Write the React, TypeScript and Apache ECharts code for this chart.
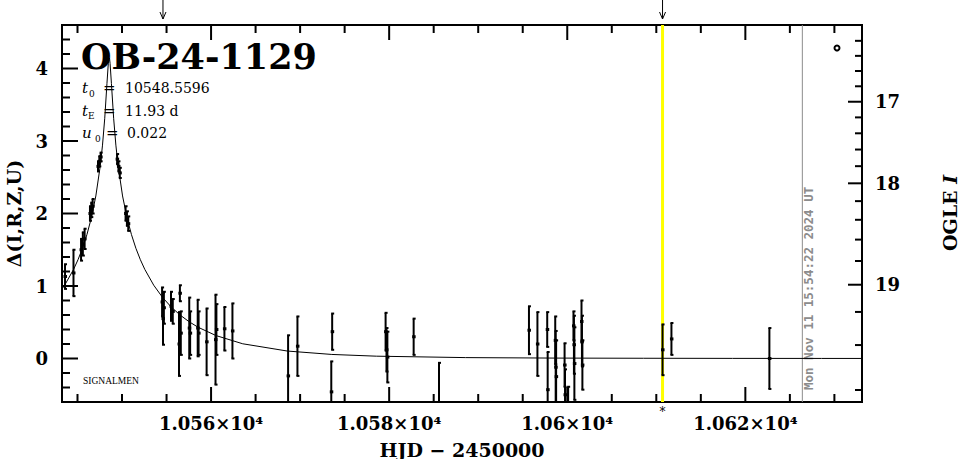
import React, { useEffect, useRef } from 'react';
import * as echarts from 'echarts';

// Axis ranges (HJD - 2450000, Δ)
const X_MIN = 10543.26;
const X_MAX = 10633.1;
const Y_MIN = -0.6;
const Y_MAX = 4.6;

// Tick values
const xMajorTicks = [10560, 10580, 10600, 10620];
const xMinorStep = 5;
const yMajorTicks = [0, 1, 2, 3, 4];
const yMinorStep = 0.2;

// Model (PSPL) curve, read as offsets from t0 (days) and Δ
const T0 = 10548.5596;
const modelDt = [0, 0.05, 0.1, 0.25, 0.5, 0.75, 1, 1.5, 2, 2.5, 3, 3.5, 4, 5, 6, 7, 8, 9, 10, 12, 15, 20, 25, 30, 40, 50, 60, 70, 80, 90];
const modelDelta = [4.144, 4.124, 4.071, 3.794, 3.313, 2.943, 2.659, 2.242, 1.941, 1.709, 1.52, 1.363, 1.229, 1.011, 0.841, 0.706, 0.596, 0.505, 0.43, 0.316, 0.203, 0.103, 0.056, 0.032, 0.0125, 0.0057, 0.0033, 0.0016, 0.001, 0.0007];

// Observations: time, Δ, error
const obsT = [
  10543.6, 10544.55, 10545.4, 10545.6, 10545.8, 10546.4, 10546.55, 10546.7, 10547.3, 10547.45, 10547.6,
  10549.45, 10549.6, 10549.75, 10550.4, 10550.55, 10550.7,
  10554.5, 10554.6, 10554.7, 10555.5, 10555.7, 10556.5, 10556.4, 10556.6, 10557.55, 10557.65, 10558.5, 10558.6,
  10559.5, 10560.5, 10560.6, 10561.5, 10562.4,
  10568.65, 10569.7, 10573.6, 10573.5, 10579.6, 10579.7, 10579.8, 10582.75, 10585.6,
  10595.7, 10596.65, 10597.75, 10597.8, 10598.65, 10598.7, 10598.75, 10599.7, 10599.75, 10600.1,
  10600.7, 10600.75, 10600.8, 10601.6, 10601.65, 10601.7,
  10610.7, 10611.7, 10622.7,
];
const obsDelta = [
  1.13, 1.18, 1.5, 1.58, 1.65, 2.0, 2.05, 2.1, 2.65, 2.72, 2.78,
  2.75, 2.65, 2.56, 2.0, 1.93, 1.86,
  0.78, 0.55, 0.7, 0.72, 0.65, 0.9, 0.2, 0.35, 0.42, 0.35, 0.42, 0.35,
  0.23, 0.26, 0.4, 0.41, 0.38,
  -0.24, 0.17, 0.37, -0.46, 0.37, 0.12, 0.02, 0.3, -0.62,
  0.39, 0.2, 0.4, -0.43, 0.25, -0.12, -0.25, -0.09, -0.5, -0.85,
  0.45, 0.19, -0.07, 0.51, 0.24, -0.09,
  0.12, 0.27, 0.0,
];
const obsErr = [
  0.17, 0.32, 0.15, 0.16, 0.14, 0.1, 0.1, 0.1, 0.07, 0.07, 0.06,
  0.07, 0.07, 0.07, 0.1, 0.1, 0.1,
  0.2, 0.36, 0.22, 0.2, 0.17, 0.11, 0.44, 0.3, 0.42, 0.3, 0.39, 0.3,
  0.46, 0.62, 0.35, 0.3, 0.38,
  0.56, 0.41, 0.25, 0.42, 0.26, 0.3, 0.35, 0.25, 0.56,
  0.33, 0.44, 0.24, 0.52, 0.33, 0.5, 0.5, 0.3, 0.35, 0.46,
  0.2, 0.4, 0.5, 0.29, 0.35, 0.34,
  0.35, 0.22, 0.42,
];

// Right axis: OGLE I magnitude ticks
const rightTickMags = [16.2, 16.4, 16.6, 16.8, 17, 17.2, 17.4, 17.6, 17.8, 18, 18.2, 18.4, 18.6, 18.8, 19, 19.2, 19.4, 19.6];
const rightMajorMags = [17, 18, 19];
const I_BASE = 19.468;
const F_S = 0.347;

// Markers
const alertArrowT = [10554.6, 10610.7];
const yellowT = 10610.7;
const grayT = 10626.4;
const stampText = 'Mon Nov 11 15:54:22 2024 UT';

const SERIF = '"DejaVu Serif", serif';

// Layout of the plotting area inside the 965 x 459 canvas
const W = 965, H = 459;
const G_LEFT = 62, G_TOP = 25, G_RIGHT = 103, G_BOTTOM = 57;

export default function App() {
  const ref = useRef<HTMLDivElement>(null);
  useEffect(() => {
    const chart = echarts.init(ref.current!, null, { renderer: 'svg' });
    const magToDelta = (m: number) =>
      2.5 * Math.log10(1 + (Math.pow(10, -0.4 * (m - I_BASE)) - 1) / F_S);

    const modelData: number[][] = [];
    for (let i = modelDt.length - 1; i > 0; i--) modelData.push([T0 - modelDt[i], modelDelta[i]]);
    for (let i = 0; i < modelDt.length; i++) modelData.push([T0 + modelDt[i], modelDelta[i]]);

    const obsData = obsT.map((t, i) => [t, obsDelta[i], obsErr[i]]);

    const xFormatter = (v: number) => {
      if (Math.abs(v / 20 - Math.round(v / 20)) > 1e-6) return '';
      return String(Math.round(v) / 10000) + '×10⁴';
    };
    const yFormatter = (v: number) => {
      if (Math.abs(v - Math.round(v)) > 1e-6) return '';
      return String(Math.round(v));
    };

    // Inward ticks on bottom, top and left edges (linear axes)
    const plotW = W - G_LEFT - G_RIGHT;
    const plotH = H - G_TOP - G_BOTTOM;
    const xPix = (v: number) => G_LEFT + ((v - X_MIN) / (X_MAX - X_MIN)) * plotW;
    const yPix = (v: number) => G_TOP + ((Y_MAX - v) / (Y_MAX - Y_MIN)) * plotH;
    const gBottom = G_TOP + plotH;
    const tickEls: any[] = [];
    for (let v = Math.ceil(X_MIN / xMinorStep) * xMinorStep; v < X_MAX; v += xMinorStep) {
      const len = xMajorTicks.indexOf(v) >= 0 ? 15 : 8;
      const x = xPix(v);
      tickEls.push({ type: 'line', shape: { x1: x, y1: gBottom, x2: x, y2: gBottom - len }, style: { stroke: '#000', lineWidth: 2 } });
      tickEls.push({ type: 'line', shape: { x1: x, y1: G_TOP, x2: x, y2: G_TOP + len }, style: { stroke: '#000', lineWidth: 2 } });
    }
    for (let k = Math.ceil(Y_MIN / yMinorStep + 1e-9); k * yMinorStep < Y_MAX - 1e-9; k++) {
      const v = Math.round(k * yMinorStep * 10) / 10;
      if (v <= Y_MIN + 1e-9) continue;
      const len = yMajorTicks.indexOf(v) >= 0 ? 16 : 8;
      const y = yPix(v);
      tickEls.push({ type: 'line', shape: { x1: G_LEFT, y1: y, x2: G_LEFT + len, y2: y }, style: { stroke: '#000', lineWidth: 2 } });
    }

    const baseGraphics: any[] = [
      { type: 'text', x: 81, y: 56, style: { text: 'OB-24-1129', font: `bold 35px ${SERIF}`, fill: '#000', textAlign: 'left', textVerticalAlign: 'middle' }, z: 10 },
      { type: 'text', x: 82, y: 88, style: { text: 't', font: `italic 15px ${SERIF}`, fill: '#000', textVerticalAlign: 'middle' } },
      { type: 'text', x: 89, y: 94, style: { text: '0', font: `9px ${SERIF}`, fill: '#000', textVerticalAlign: 'middle' } },
      { type: 'text', x: 103, y: 88, style: { text: '=', font: `15px ${SERIF}`, fill: '#000', textVerticalAlign: 'middle' } },
      { type: 'text', x: 125, y: 88, style: { text: '10548.5596', font: `14px ${SERIF}`, fill: '#000', textVerticalAlign: 'middle' } },
      { type: 'text', x: 82, y: 111, style: { text: 't', font: `italic 15px ${SERIF}`, fill: '#000', textVerticalAlign: 'middle' } },
      { type: 'text', x: 88, y: 116, style: { text: 'E', font: `9px ${SERIF}`, fill: '#000', textVerticalAlign: 'middle' } },
      { type: 'text', x: 103, y: 111, style: { text: '=', font: `15px ${SERIF}`, fill: '#000', textVerticalAlign: 'middle' } },
      { type: 'text', x: 125, y: 111, style: { text: '11.93 d', font: `14px ${SERIF}`, fill: '#000', textVerticalAlign: 'middle' } },
      { type: 'text', x: 82, y: 133, style: { text: 'u', font: `italic 15px ${SERIF}`, fill: '#000', textVerticalAlign: 'middle' } },
      { type: 'text', x: 95, y: 139, style: { text: '0', font: `9px ${SERIF}`, fill: '#000', textVerticalAlign: 'middle' } },
      { type: 'text', x: 106, y: 133, style: { text: '=', font: `15px ${SERIF}`, fill: '#000', textVerticalAlign: 'middle' } },
      { type: 'text', x: 127, y: 133, style: { text: '0.022', font: `14px ${SERIF}`, fill: '#000', textVerticalAlign: 'middle' } },
      { type: 'text', x: 83, y: 381, style: { text: 'SIGNALMEN', font: `9.5px "Liberation Serif", serif`, fill: '#000', textVerticalAlign: 'middle' } },
      { type: 'circle', shape: { cx: 837, cy: 48, r: 2.5 }, style: { fill: '#fff', stroke: '#000', lineWidth: 2 } },
      {
        type: 'text',
        x: 950,
        y: 213,
        rotation: Math.PI / 2,
        style: {
          text: '{a|OGLE }{b|I}',
          textAlign: 'center',
          textVerticalAlign: 'middle',
          rich: {
            a: { fontFamily: SERIF, fontWeight: 'bold', fontSize: 19, fill: '#000', color: '#000' },
            b: { fontFamily: SERIF, fontWeight: 'bold', fontStyle: 'italic', fontSize: 19, fill: '#000', color: '#000' },
          },
        },
      },
      ...tickEls,
    ];

    const axisLine = { show: true, onZero: false, lineStyle: { color: '#000', width: 2 } };

    const option: any = {
      animation: false,
      backgroundColor: '#fff',
      grid: {
        left: G_LEFT, top: G_TOP, right: G_RIGHT, bottom: G_BOTTOM,
        containLabel: false, outerBoundsMode: 'none',
        show: true, borderColor: '#000', borderWidth: 2, backgroundColor: 'transparent',
      },
      xAxis: {
        type: 'value',
        position: 'bottom',
        min: X_MIN,
        max: X_MAX,
        splitNumber: 5,
        axisLine,
        axisTick: { show: false },
        splitLine: { show: false },
        axisLabel: { formatter: xFormatter, margin: 12, color: '#000', fontFamily: SERIF, fontWeight: 'bold', fontSize: 18 },
        name: 'HJD − 2450000',
        nameLocation: 'middle',
        nameGap: 38,
        nameTextStyle: { color: '#000', fontFamily: SERIF, fontWeight: 'bold', fontSize: 19 },
      },
      yAxis: {
        type: 'value',
        position: 'left',
        min: Y_MIN,
        max: Y_MAX,
        splitNumber: 5,
        axisLine,
        axisTick: { show: false },
        splitLine: { show: false },
        axisLabel: { formatter: yFormatter, margin: 14, color: '#000', fontFamily: SERIF, fontWeight: 'bold', fontSize: 18 },
        name: 'Δ(I,R,Z,U)',
        nameLocation: 'middle',
        nameGap: 39,
        nameTextStyle: { color: '#000', fontFamily: SERIF, fontWeight: 'bold', fontSize: 19 },
      },
      graphic: { elements: baseGraphics },
      series: [
        {
          type: 'custom',
          name: 'vlines',
          z: 1,
          data: [[yellowT, 0, 0], [grayT, 0, 1]],
          renderItem: (params: any, api: any) => {
            const cs = params.coordSys;
            const p = api.coord([api.value(0), 0]);
            const kind = api.value(2);
            const children: any[] = [];
            if (kind === 0) {
              children.push({ type: 'line', shape: { x1: p[0], y1: cs.y, x2: p[0], y2: cs.y + cs.height }, style: { stroke: '#ffff00', lineWidth: 3 } });
            } else {
              children.push({ type: 'line', shape: { x1: p[0], y1: cs.y, x2: p[0], y2: cs.y + cs.height }, style: { stroke: '#8c8c8c', lineWidth: 1 } });
              children.push({
                type: 'text',
                x: p[0] + 6.5,
                y: cs.y + cs.height - 12,
                rotation: Math.PI / 2,
                style: { text: stampText, font: 'bold 12.5px "DejaVu Sans Mono", monospace', fill: '#8c8c8c', textAlign: 'left', textVerticalAlign: 'middle', align: 'left', verticalAlign: 'middle' },
              });
            }
            return { type: 'group', children };
          },
        },
        {
          type: 'line',
          name: 'model',
          z: 2,
          data: modelData,
          showSymbol: false,
          symbol: 'none',
          smooth: false,
          clip: true,
          lineStyle: { color: '#000', width: 1 },
        },
        {
          type: 'custom',
          name: 'observations',
          z: 3,
          data: obsData,
          renderItem: (params: any, api: any) => {
            const cs = params.coordSys;
            const t = api.value(0), d = api.value(1), e = api.value(2);
            const pc = api.coord([t, d]);
            const pt = api.coord([t, d + e]);
            const pb = api.coord([t, d - e]);
            const yTop = cs.y, yBot = cs.y + cs.height;
            const y1 = Math.max(pt[1], yTop), y2 = Math.min(pb[1], yBot);
            const x = pc[0];
            const children: any[] = [];
            if (y1 < y2) children.push({ type: 'line', shape: { x1: x, y1, x2: x, y2 }, style: { stroke: '#000', lineWidth: 2 } });
            if (pt[1] >= yTop && pt[1] <= yBot) children.push({ type: 'line', shape: { x1: x - 1, y1: pt[1], x2: x + 2, y2: pt[1] }, style: { stroke: '#000', lineWidth: 2 } });
            if (pb[1] >= yTop && pb[1] <= yBot) children.push({ type: 'line', shape: { x1: x - 1, y1: pb[1], x2: x + 2, y2: pb[1] }, style: { stroke: '#000', lineWidth: 2 } });
            if (pc[1] >= yTop && pc[1] <= yBot) children.push({ type: 'rect', shape: { x: x - 1.5, y: pc[1] - 1.5, width: 3.5, height: 3 }, style: { fill: '#000' } });
            return { type: 'group', children };
          },
        },
        {
          type: 'custom',
          name: 'OGLE I axis',
          z: 4,
          data: rightTickMags.map((m) => [X_MAX, magToDelta(m), m]),
          renderItem: (params: any, api: any) => {
            const cs = params.coordSys;
            const m = api.value(2);
            const p = api.coord([api.value(0), api.value(1)]);
            if (p[1] < cs.y + 1 || p[1] > cs.y + cs.height - 1) return { type: 'group', children: [] };
            const major = rightMajorMags.indexOf(Math.round(m * 10) / 10) >= 0;
            const xr = cs.x + cs.width;
            const len = major ? 14 : 7;
            const children: any[] = [
              { type: 'line', shape: { x1: xr - len, y1: p[1], x2: xr, y2: p[1] }, style: { stroke: '#000', lineWidth: 2 } },
            ];
            if (major) {
              children.push({
                type: 'text',
                x: xr + 13,
                y: p[1],
                style: { text: String(Math.round(m)), font: `bold 18px ${SERIF}`, fill: '#000', textAlign: 'left', textVerticalAlign: 'middle', align: 'left', verticalAlign: 'middle' },
              });
            }
            return { type: 'group', children };
          },
        },
        {
          type: 'custom',
          name: 'alerts',
          z: 5,
          data: alertArrowT.map((t) => [t, 0]),
          renderItem: (params: any, api: any) => {
            const cs = params.coordSys;
            const p = api.coord([api.value(0), 0]);
            const tip = cs.y - 6;
            return {
              type: 'group',
              children: [
                { type: 'line', shape: { x1: p[0], y1: 0, x2: p[0], y2: tip }, style: { stroke: '#000', lineWidth: 1 } },
                { type: 'polyline', shape: { points: [[p[0] - 3, tip - 7], [p[0], tip], [p[0] + 3, tip - 7]] }, style: { stroke: '#000', lineWidth: 1, fill: 'none' } },
              ],
            };
          },
        },
        {
          type: 'custom',
          name: 'current',
          z: 5,
          data: [[yellowT, 0]],
          renderItem: (params: any, api: any) => {
            const cs = params.coordSys;
            const p = api.coord([api.value(0), 0]);
            return {
              type: 'text',
              x: p[0],
              y: cs.y + cs.height + 10,
              style: { text: '*', font: `12px ${SERIF}`, fill: '#000', textAlign: 'center', textVerticalAlign: 'middle', align: 'center', verticalAlign: 'middle' },
            };
          },
        },
      ],
    };
    chart.setOption(option);
    return () => chart.dispose();
  }, []);
  return (
    <div
      ref={ref}
      style={{ position: 'fixed', left: 0, top: 0, width: W, height: H, background: '#fff' }}
    />
  );
}
